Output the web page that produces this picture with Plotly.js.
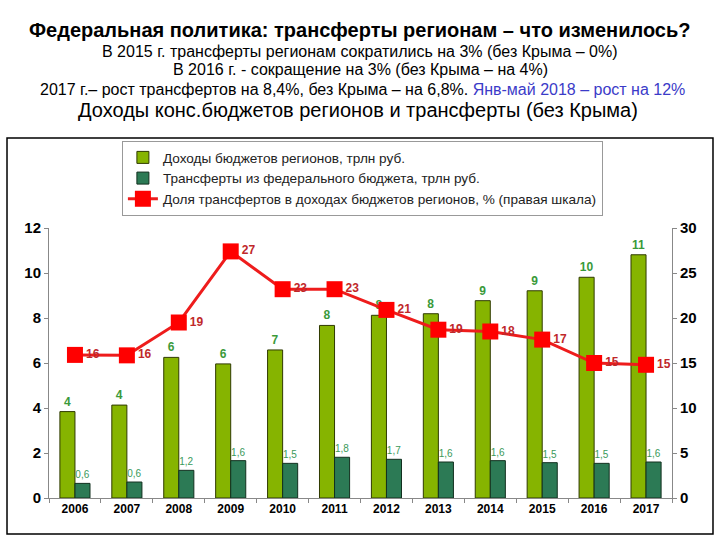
<!DOCTYPE html>
<html><head><meta charset="utf-8">
<script src="https://cdn.plot.ly/plotly-3.0.1.min.js"></script>
<style>html,body{margin:0;padding:0;background:#fff}#c{width:720px;height:540px}</style>
</head><body><div id="c"></div>
<script>
const years = ['2006','2007','2008','2009','2010','2011','2012','2013','2014','2015','2016','2017'];
const revenue = [3.84, 4.13, 6.25, 5.96, 6.58, 7.67, 8.12, 8.19, 8.77, 9.21, 9.81, 10.81];
const revenueLabels = ['4','4','6','6','7','8','8','8','9','9','10','11'];
const transfers = [0.65, 0.71, 1.23, 1.66, 1.54, 1.81, 1.72, 1.60, 1.66, 1.57, 1.54, 1.60];
const transferLabels = ['0,6','0,6','1,2','1,6','1,5','1,8','1,7','1,6','1,6','1,5','1,5','1,6'];
const share = [15.9, 15.85, 19.5, 27.4, 23.2, 23.2, 20.9, 18.7, 18.5, 17.6, 15.0, 14.8];
const shareLabels = ['16','16','19','27','23','23','21','19','18','17','15','15'];
const leftTicks = [0,2,4,6,8,10,12];
const rightTicks = [0,5,10,15,20,25,30];

const F = 'Liberation Sans, Arial, sans-serif';
const traces = [
  {type:'bar', x:years, y:revenue, name:'Доходы бюджетов регионов, трлн руб.',
   marker:{color:'#86b400', line:{color:'#2f3a00', width:1}},
   text:revenueLabels, textposition:'outside', cliponaxis:false,
   textfont:{family:F, size:12, color:'#3a9a3a', weight:'bold'}},
  {type:'bar', x:years, y:transfers, name:'Трансферты из федерального бюджета, трлн руб.',
   marker:{color:'#2c7a55', line:{color:'#12301f', width:1}},
   text:transferLabels, textposition:'outside', cliponaxis:false,
   textfont:{family:F, size:10, color:'#3a9a5a'}},
  {type:'scatter', mode:'lines+markers+text', x:years, y:share, yaxis:'y2',
   name:'Доля трансфертов в доходах бюджетов регионов, % (правая шкала)',
   line:{color:'#ee1c1c', width:3},
   marker:{symbol:'square', size:16, color:'#ff0000'},
   text:shareLabels, textposition:'middle right', cliponaxis:false,
   textfont:{family:F, size:12, color:'#c0282a', weight:'bold'}}
];

const layout = {
  width:720, height:540,
  margin:{l:49, r:48, t:228, b:42},
  paper_bgcolor:'#fff', plot_bgcolor:'#fff',
  font:{family:F, color:'#000'},
  barmode:'group', bargap:0.42, bargroupgap:0,
  showlegend:true,
  legend:{x:0.117, y:1.322, xanchor:'left', yanchor:'top', bgcolor:'#fff',
    bordercolor:'#999', borderwidth:1, font:{family:F, size:13.6, color:'#222'},
    traceorder:'normal', itemwidth:30},
  xaxis:{type:'category', range:[-0.5, 11.5], autorange:false, tickson:'boundaries', ticks:'outside', ticklen:4, tickcolor:'#888',
    showline:true, linecolor:'#888', linewidth:1, showgrid:false,
    tickfont:{family:F, size:12, color:'#000', weight:'bold'}},
  yaxis:{range:[0,12], tickvals:leftTicks, ticktext:leftTicks.map(String), ticks:'outside', ticklen:4,
    tickcolor:'#888', showline:true, linecolor:'#888', showgrid:false, zeroline:false,
    tickfont:{family:F, size:15, color:'#000', weight:'bold'}},
  yaxis2:{range:[0,30], overlaying:'y', side:'right', tickvals:rightTicks, ticktext:rightTicks.map(String),
    ticks:'outside', ticklen:4, tickcolor:'#888', showline:true, linecolor:'#888', showgrid:false, zeroline:false,
    tickfont:{family:F, size:15, color:'#000', weight:'bold'}},
  shapes:[{type:'rect', xref:'paper', yref:'paper', x0:-0.0674, x1:1.0658, y0:-0.1333, y1:1.3333,
    line:{color:'#000', width:1.5}, fillcolor:'rgba(0,0,0,0)', layer:'below'}],
  annotations:[
    {text:'<b>Федеральная политика: трансферты регионам – что изменилось?</b>', xref:'paper', yref:'paper',
     x:(360-49)/623, y:(498-30)/270, xanchor:'center', yanchor:'middle', showarrow:false,
     font:{family:F, size:20, color:'#000'}},
    {text:'В 2015 г. трансферты регионам сократились на 3% (без Крыма – 0%)', xref:'paper', yref:'paper',
     x:(360-49)/623, y:(498-51)/270, xanchor:'center', yanchor:'middle', showarrow:false,
     font:{family:F, size:16, color:'#000'}},
    {text:'В 2016 г. - сокращение на 3% (без Крыма – на 4%)', xref:'paper', yref:'paper',
     x:(360-49)/623, y:(498-70)/270, xanchor:'center', yanchor:'middle', showarrow:false,
     font:{family:F, size:16, color:'#000'}},
    {text:'2017 г.– рост трансфертов на 8,4%, без Крыма – на 6,8%. <span style="color:#3b3bc8">Янв-май 2018 – рост на 12%</span>', xref:'paper', yref:'paper',
     x:(362-49)/623, y:(498-89)/270, xanchor:'center', yanchor:'middle', showarrow:false,
     font:{family:F, size:16, color:'#000'}},
    {text:'Доходы конс.бюджетов регионов и трансферты (без Крыма)', xref:'paper', yref:'paper',
     x:(358-49)/623, y:(498-110)/270, xanchor:'center', yanchor:'middle', showarrow:false,
     font:{family:F, size:20, color:'#000'}}
  ]
};
Plotly.newPlot('c', traces, layout, {displayModeBar:false, staticPlot:true});
</script></body></html>
